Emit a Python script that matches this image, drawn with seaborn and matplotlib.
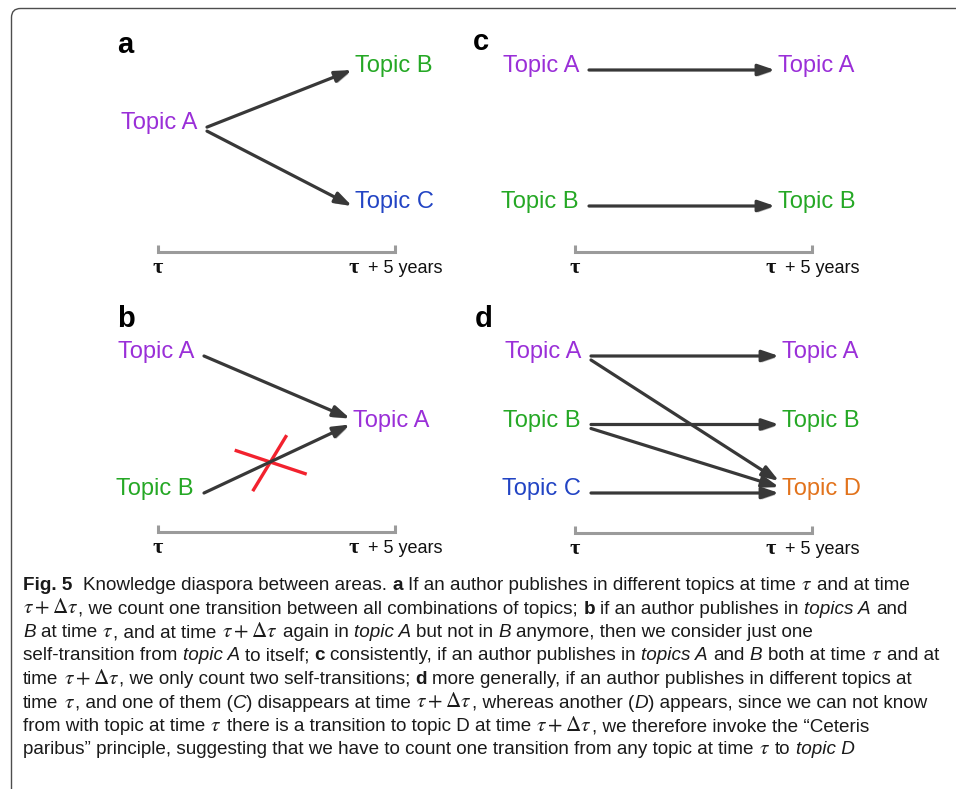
import matplotlib
matplotlib.use("Agg")
import matplotlib.pyplot as plt
import seaborn as sns
from matplotlib import patheffects as pe
from matplotlib import font_manager as fm
from matplotlib.patches import FancyBboxPatch

sns.set_theme(style="white")
plt.rcParams["font.family"] = ["Liberation Sans", "DejaVu Sans"]
plt.rcParams["mathtext.fontset"] = "stix"

# --- diagram content ---
topic_colors = {"A": "#9a2fd8", "B": "#25a825", "C": "#2244c4", "D": "#e2731c"}
panel_letters = ["a", "b", "c", "d"]
left_topics = [["A"], ["A", "B"], ["A", "B"], ["A", "B", "C"]]
right_topics = [["B", "C"], ["A"], ["A", "B"], ["A", "B", "D"]]
transitions = [
    [("A", "B"), ("A", "C")],
    [("A", "A"), ("B", "A")],
    [("A", "A"), ("B", "B")],
    [("A", "A"), ("A", "D"), ("B", "B"), ("B", "D"), ("C", "D")],
]
crossed = [[], [("B", "A")], [], []]
time_start = "τ"
time_end = "+ 5 years"

TAU = r"$\tau$"
TAUD = r"$\tau + \Delta\tau$"
caption_lines = [
    [("Fig. 5", "b"), ("  Knowledge diaspora between areas. ", "r"), ("a", "b"),
     (" If an author publishes in different topics at time ", "r"), (TAU, "m"), (" and at time", "r")],
    [(TAUD, "m"), (", we count one transition between all combinations of topics; ", "r"), ("b", "b"),
     (" if an author publishes in ", "r"), ("topics A", "i"), (" and", "r")],
    [("B", "i"), (" at time ", "r"), (TAU, "m"), (", and at time ", "r"), (TAUD, "m"), (" again in ", "r"),
     ("topic A", "i"), (" but not in ", "r"), ("B", "i"), (" anymore, then we consider just one", "r")],
    [("self-transition from ", "r"), ("topic A", "i"), (" to itself; ", "r"), ("c", "b"),
     (" consistently, if an author publishes in ", "r"), ("topics A", "i"), (" and ", "r"), ("B", "i"),
     (" both at time ", "r"), (TAU, "m"), (" and at", "r")],
    [("time ", "r"), (TAUD, "m"), (", we only count two self-transitions; ", "r"), ("d", "b"),
     (" more generally, if an author publishes in different topics at", "r")],
    [("time ", "r"), (TAU, "m"), (", and one of them (", "r"), ("C", "i"), (") disappears at time ", "r"),
     (TAUD, "m"), (", whereas another (", "r"), ("D", "i"), (") appears, since we can not know", "r")],
    [("from with topic at time ", "r"), (TAU, "m"), (" there is a transition to topic D at time ", "r"),
     (TAUD, "m"), (", we therefore invoke the \u201cCeteris", "r")],
    [("paribus\u201d principle, suggesting that we have to count one transition from any topic at time ", "r"),
     (TAU, "m"), (" to ", "r"), ("topic D", "i")],
]

# --- layout (pixels) ---
layout = [
    dict(letter=(117, 53), xl=197, xr=355, top=72, bot=208, mid=0.42, tl=(158, 395, 252)),
    dict(letter=(117, 327), xl=194, xr=353, top=358, bot=495, mid=0.5, tl=(158, 395, 532)),
    dict(letter=(473, 50), xl=579, xr=778, top=72, bot=208, mid=0.5, tl=(575, 812, 252)),
    dict(letter=(475, 327), xl=581, xr=782, top=358, bot=495, mid=0.5, tl=(575, 812, 533)),
]

fig = plt.figure(figsize=(9.56, 7.89), dpi=100)
ax = fig.add_axes([0, 0, 1, 1])
ax.set_xlim(0, 956)
ax.set_ylim(789, 0)
ax.axis("off")
renderer = fig.canvas.get_renderer()

ax.add_patch(FancyBboxPatch((11.5, 8.5), 3000, 3000, boxstyle="round,pad=0,rounding_size=9",
                            fc="none", ec="#4d4d4d", lw=1.0))


def rows(items, lay):
    n = len(items)
    if n == 1:
        return {items[0]: lay["top"] + lay["mid"] * (lay["bot"] - lay["top"])}
    return {t: lay["top"] + i / (n - 1) * (lay["bot"] - lay["top"]) for i, t in enumerate(items)}


def draw_arrow(p0, p1):
    ann = ax.annotate("", xy=p1, xytext=p0,
                      arrowprops=dict(arrowstyle="-|>,head_length=0.5,head_width=0.17",
                                      color="#383838", lw=2.3, shrinkA=0, shrinkB=0,
                                      mutation_scale=20))
    ann.arrow_patch.set_path_effects([
        pe.withSimplePatchShadow(offset=(1.0, -1.4), shadow_rgbFace="#a8a8a8", alpha=0.9)])


for k, lay in enumerate(layout):
    lx, ly = lay["letter"]
    ax.text(lx, ly, panel_letters[k], fontsize=21, fontweight="bold", color="black",
            ha="left", va="baseline")
    ly_left = rows(left_topics[k], lay)
    ly_right = rows(right_topics[k], lay)
    for t, y in ly_left.items():
        ax.text(lay["xl"], y, "Topic " + t, fontsize=17, color=topic_colors[t], ha="right", va="baseline")
    for t, y in ly_right.items():
        ax.text(lay["xr"], y, "Topic " + t, fontsize=17, color=topic_colors[t], ha="left", va="baseline")

    edges = transitions[k]
    for src, dst in edges:
        outs = [e for e in edges if e[0] == src]
        ins = [e for e in edges if e[1] == dst]
        i_out = outs.index((src, dst))
        i_in = ins.index((src, dst))
        y0 = ly_left[src] - 2 + i_out * 4
        y1 = ly_right[dst] - 2 - (len(ins) - 1 - i_in) * 6
        x0, x1 = lay["xl"] + 10, lay["xr"] - 3
        draw_arrow((x0, y0), (x1, y1))
        if (src, dst) in crossed[k]:
            cx, cy = x0 + 0.45 * (x1 - x0), y0 + 0.45 * (y1 - y0)
            ax.plot([cx - 35, cx + 37], [cy - 12, cy + 12], color="#f2222e", lw=2.4, solid_capstyle="butt")
            ax.plot([cx - 17, cx + 17], [cy + 29, cy - 27], color="#f2222e", lw=2.4, solid_capstyle="butt")

    t0, t1, ty = lay["tl"]
    ax.plot([t0, t0, t1, t1], [ty - 7, ty, ty, ty - 7], color="#9b9b9b", lw=2.2,
            solid_joinstyle="miter", solid_capstyle="butt")
    ax.text(t0, ty + 21, time_start, fontsize=16, fontweight="bold", family="Liberation Serif",
            ha="center", va="baseline", color="#111111")
    ax.text(t1 - 46, ty + 21, time_start, fontsize=16, fontweight="bold", family="Liberation Serif",
            ha="left", va="baseline", color="#111111")
    ax.text(t1 - 27, ty + 21, time_end, fontsize=13, ha="left", va="baseline", color="#111111")

# --- caption with mixed styles ---
names = {f.name for f in fm.fontManager.ttflist}
cap_family = "Liberation Sans Narrow" if "Liberation Sans Narrow" in names else "Liberation Sans"
cap_styles = {
    "r": dict(family=cap_family),
    "b": dict(family=cap_family, weight="bold"),
    "i": dict(family=cap_family, style="italic"),
    "m": dict(),
}


def draw_line(x, y, runs, size):
    made = []
    sp1 = ax.text(0, 0, "x x", fontsize=size, **cap_styles["r"])
    sp2 = ax.text(0, 0, "xx", fontsize=size, **cap_styles["r"])
    space = sp1.get_window_extent(renderer).width - sp2.get_window_extent(renderer).width
    sp1.remove()
    sp2.remove()
    for txt, sty in runs:
        lead = len(txt) - len(txt.lstrip(" "))
        trail = len(txt) - len(txt.rstrip(" "))
        x += lead * space
        fs = size * 1.12 if sty == "m" else size
        t = ax.text(x, y, txt.strip(" "), fontsize=fs, ha="left", va="baseline",
                    color="#1a1a1a", **cap_styles[sty])
        made.append(t)
        x += t.get_window_extent(renderer).width + trail * space
    return x, made


# shrink the caption so its widest line ends at the right margin
base = 13.5
widest = 0
for runs in caption_lines:
    end, tmp = draw_line(23, 0, runs, base)
    widest = max(widest, end - 23)
    for t in tmp:
        t.remove()
size = base * (944 - 23) / widest
for i, runs in enumerate(caption_lines):
    draw_line(23, 590 + i * 23.5, runs, size)

fig.savefig("out.png", dpi=100, facecolor="white")
